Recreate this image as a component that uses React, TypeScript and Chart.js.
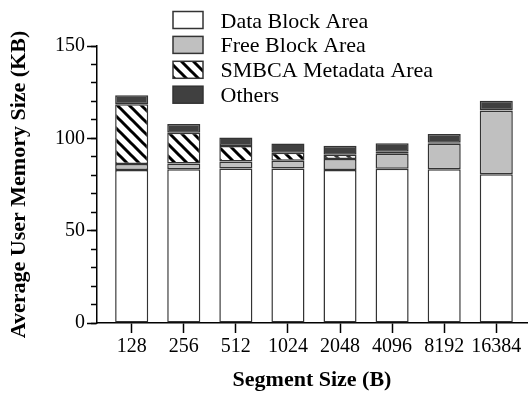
import React, { useEffect, useRef } from "react";
import { Chart, registerables } from "chart.js";

Chart.register(...registerables);

const categories = ["128", "256", "512", "1024", "2048", "4096", "8192", "16384"];
const dataBlock = [82.8, 83.2, 83.7, 83.7, 82.8, 83.5, 83.2, 80.5];
const freeBlock = [3.3, 3.2, 3.8, 4.2, 6.0, 8.1, 13.9, 34.4];
const smbcaMeta = [32.4, 16.6, 8.3, 4.3, 2.3, 1.1, 0.5, 0.3];
const others = [4.8, 4.7, 4.7, 5.0, 4.9, 4.7, 4.8, 5.1];
const seriesLabels = ["Data Block Area", "Free Block Area", "SMBCA Metadata Area", "Others"];
const yMajorTicks = [0, 50, 100, 150];

const FONT = "'Liberation Serif', 'Times New Roman', serif";

function makeHatch(): CanvasPattern | string {
  const s = 12;
  const c = document.createElement("canvas");
  c.width = s;
  c.height = s;
  const g = c.getContext("2d");
  if (!g) return "#888";
  g.fillStyle = "#fff";
  g.fillRect(0, 0, s, s);
  g.strokeStyle = "#000";
  g.lineWidth = 3;
  g.beginPath();
  g.moveTo(-2, -2);
  g.lineTo(s + 2, s + 2);
  g.moveTo(-2, s - 2);
  g.lineTo(2, s + 2);
  g.moveTo(s - 2, -2);
  g.lineTo(s + 2, 2);
  g.stroke();
  const p = g.createPattern(c, "repeat");
  return p || "#888";
}

const legendPlugin = {
  id: "customLegend",
  afterDraw(chart: any) {
    const ctx = chart.ctx;
    ctx.save();
    chart.data.datasets.forEach((ds: any, i: number) => {
      const y = 11.5 + i * 24.9;
      ctx.fillStyle = ds.backgroundColor;
      ctx.fillRect(173, y, 30, 17);
      ctx.strokeStyle = "#333";
      ctx.lineWidth = 1.5;
      ctx.strokeRect(173, y, 30, 17);
      ctx.fillStyle = "#000";
      ctx.font = `22px ${FONT}`;
      ctx.textBaseline = "alphabetic";
      ctx.textAlign = "left";
      ctx.fillText(ds.label, 220.5, y + 16);
    });
    ctx.restore();
  },
};

export default function App() {
  const ref = useRef<HTMLCanvasElement | null>(null);
  useEffect(() => {
    document.body.style.margin = "0";
    if (!ref.current) return;
    const hatch = makeHatch();
    const colors = ["#ffffff", "#c0c0c0", hatch, "#404040"];
    const series = [dataBlock, freeBlock, smbcaMeta, others];
    const chart = new Chart(ref.current, {
      type: "bar",
      data: {
        datasets: series.map((arr, k) => ({
          label: seriesLabels[k],
          data: arr.map((v, i) => ({ x: i, y: v })),
          backgroundColor: colors[k] as any,
          borderColor: "#333",
          borderWidth: 1.5,
          borderSkipped: false,
          categoryPercentage: 1,
          barPercentage: 0.635,
        })),
      },
      options: {
        animation: false,
        responsive: false,
        devicePixelRatio: 1,
        layout: { padding: { top: 46, right: 3, left: 0, bottom: 0 } },
        plugins: { legend: { display: false }, tooltip: { enabled: false } },
        scales: {
          x: {
            type: "linear",
            stacked: true,
            offset: false,
            min: -0.666,
            max: 7.59,
            afterBuildTicks(scale: any) {
              scale.ticks = categories.map((_, i) => ({ value: i }));
            },
            afterFit(scale: any) {
              scale.height = 71;
            },
            ticks: {
              callback: (v: any) => categories[Math.round(Number(v))] ?? "",
              color: "#000",
              font: { size: 20, family: FONT },
              padding: 2,
              maxRotation: 0,
              autoSkip: false,
            },
            grid: { offset: false, drawOnChartArea: false, tickLength: 10, tickColor: "#000", tickWidth: 1.5 },
            border: { display: true, color: "#000", width: 1.5 },
            title: {
              display: true,
              text: "Segment Size (B)",
              color: "#000",
              font: { size: 22, family: FONT, weight: "bold" },
              padding: { top: 4, bottom: 0 },
            },
          },
          y: {
            type: "linear",
            stacked: true,
            min: 0,
            max: 150,
            weight: 10,
            afterBuildTicks(scale: any) {
              scale.ticks = yMajorTicks.map((v) => ({ value: v }));
            },
            afterFit(scale: any) {
              scale.width = 97;
            },
            ticks: {
              color: "#000",
              font: { size: 20, family: FONT },
              padding: 2,
            },
            grid: { drawOnChartArea: false, tickLength: 10, tickColor: "#000", tickWidth: 1.5 },
            border: { display: true, color: "#000", width: 1.5 },
            title: {
              display: true,
              text: "Average User Memory Size (KB)",
              color: "#000",
              font: { size: 22, family: FONT, weight: "bold" },
              padding: { top: 6, bottom: 0 },
            },
          },
          yMinor: {
            type: "linear",
            position: "left",
            min: 0,
            max: 150,
            weight: 0,
            ticks: { display: false, stepSize: 10 },
            afterFit(scale: any) {
              scale.width = 0;
            },
            grid: { drawOnChartArea: false, tickLength: 6, tickColor: "#000", tickWidth: 1.5 },
            border: { display: false },
          },
        },
      },
      plugins: [legendPlugin],
    });
    return () => chart.destroy();
  }, []);
  return <canvas ref={ref} width={530} height={394} style={{ display: "block" }} />;
}
